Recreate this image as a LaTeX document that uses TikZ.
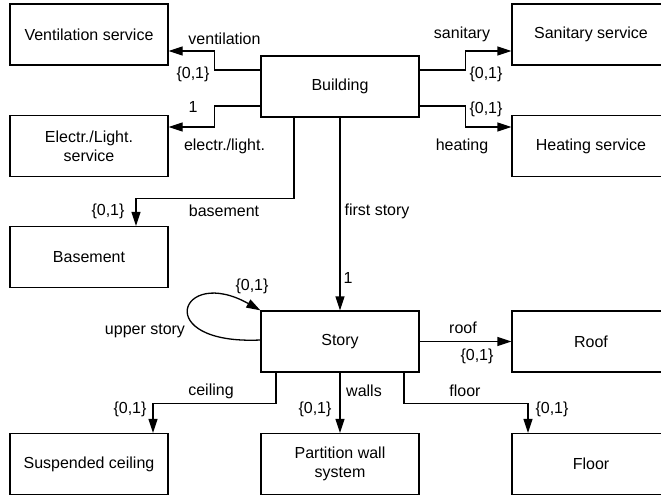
\documentclass[tikz,border=0pt]{standalone}
\usepackage{fontspec}
\setmainfont{Liberation Sans}
\usetikzlibrary{arrows.meta}
\begin{document}
\begin{tikzpicture}[x=1pt,y=-1pt,
  font=\fontsize{16}{19}\selectfont,
  box/.style={draw,line width=1.3pt,minimum width=158pt,minimum height=61pt,align=center,inner sep=2pt},
  arr/.style={line width=1.3pt,-{Triangle[length=14pt,width=9pt]}},
  lbl/.style={inner sep=0pt}]
\useasboundingbox (0,0) rectangle (661,500);
% boxes
\node[box] (vent) at (89,34.5) {Ventilation service};
\node[box] (elec) at (89,146) {Electr./Light.\\service};
\node[box] (base) at (89,257) {Basement};
\node[box] (susp) at (89,464) {Suspended ceiling};
\node[box] (build) at (340,86.5) {Building};
\node[box] (story) at (340,341.5) {Story};
\node[box] (part) at (340,464) {Partition wall\\system};
\node[box] (san) at (591,34.5) {Sanitary service};
\node[box] (heat) at (591,146) {Heating service};
\node[box] (roof) at (591,341.5) {Roof};
\node[box] (floor) at (591,464) {Floor};
% connectors
\draw[arr] ([yshift=16.5pt]build.west) -- ++(-46,0) |- ([yshift=-16.5pt]vent.east);
\draw[arr] ([yshift=-19.5pt]build.west) -- ++(-46,0) |- ([yshift=19pt]elec.east);
\draw[arr] ([xshift=-46pt]build.south) -- ++(0,81) -| ([xshift=47pt]base.north);
\draw[arr] ([yshift=16.5pt]build.east) -- ++(46,0) |- ([yshift=-16.5pt]san.west);
\draw[arr] ([yshift=-19.5pt]build.east) -- ++(46,0) |- ([yshift=19pt]heat.west);
\draw[arr] (build.south) -- (story.north);
\draw[arr] ([yshift=1.5pt]story.west) .. controls (150,345) and (180,265) .. (story.north west);
\draw[arr] (story.east) -- (roof.west);
\draw[arr] (story.south) -- (part.north);
\draw[arr] ([xshift=-64pt]story.south) -- ++(0,31) -| ([xshift=64pt]susp.north);
\draw[arr] ([xshift=64pt]story.south) -- ++(0,31) -| ([xshift=-63pt]floor.north);
% labels
\node[lbl] (l1) at (224.5,39) {ventilation};
\node[lbl] (l2) at (193,74) {\{0,1\}};
\node[lbl] (l3) at (193,107) {1};
\node[lbl] (l4) at (224.5,146) {electr./light.};
\node[lbl] (l5) at (108,211) {\{0,1\}};
\node[lbl] (l6) at (224,211) {basement};
\node[lbl] (l7) at (462,34) {sanitary};
\node[lbl] (l8) at (486,74) {\{0,1\}};
\node[lbl] (l9) at (486,109) {\{0,1\}};
\node[lbl] (l10) at (462,146) {heating};
\node[lbl] (l11) at (377,211) {first story};
\node[lbl] (l12) at (348,278) {1};
\node[lbl] (l13) at (252,286) {\{0,1\}};
\node[lbl] (l14) at (145,331) {upper story};
\node[lbl] (l15) at (463,328) {roof};
\node[lbl] (l16) at (477,356) {\{0,1\}};
\node[lbl] (l17) at (211,391) {ceiling};
\node[lbl] (l18) at (130,409) {\{0,1\}};
\node[lbl] (l19) at (315,409) {\{0,1\}};
\node[lbl] (l20) at (364,391) {walls};
\node[lbl] (l21) at (465,391) {floor};
\node[lbl] (l22) at (552,409) {\{0,1\}};
\end{tikzpicture}
\end{document}
